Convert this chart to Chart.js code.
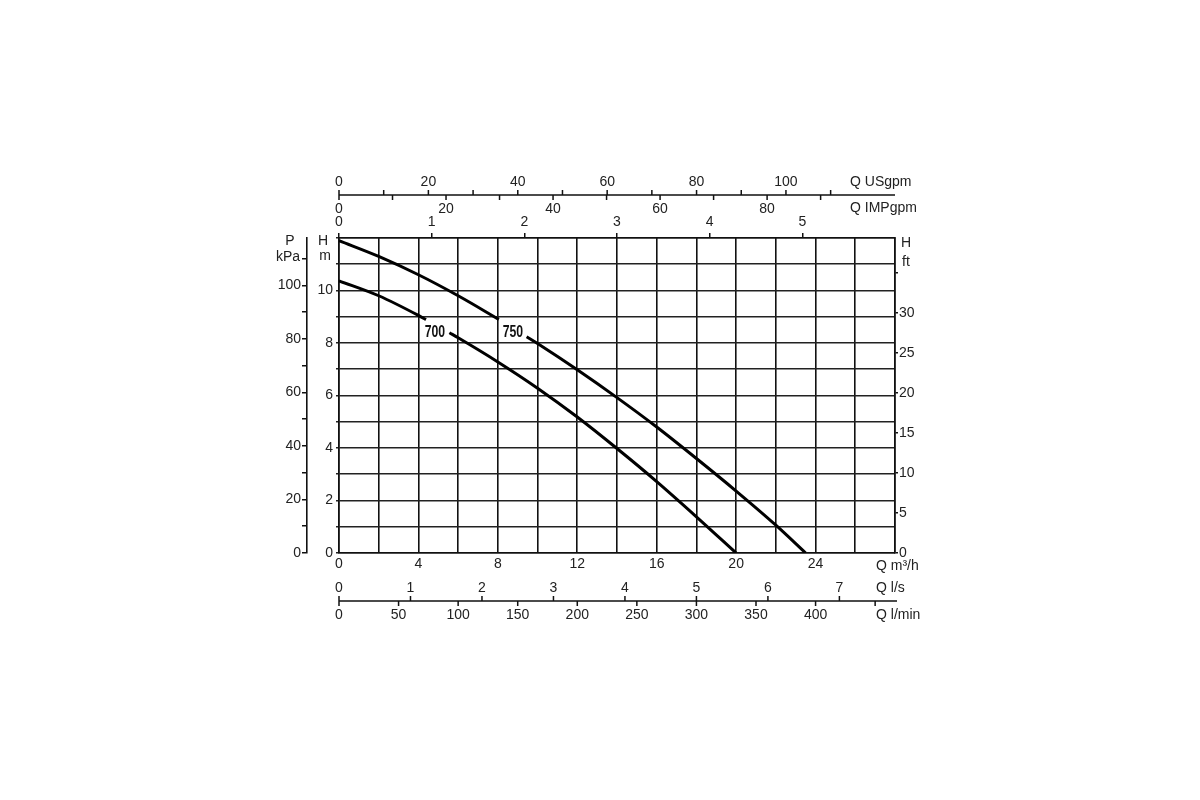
<!DOCTYPE html>
<html lang="en">
<head>
<meta charset="UTF-8">
<title>Pump curves 700 / 750</title>
<script src="https://cdn.jsdelivr.net/npm/chart.js"></script>
<style>
    body { margin: 0; background: #fff; }
    #chartBox { width: 1200px; height: 800px; }
</style>
</head>
<body>
<div id="chartBox"><canvas id="pumpChart" width="1200" height="800"></canvas></div>
<script>
    // Q (m3/h) and H (m); null leaves the gap for the curve name
    var q700 = [0, 2, 4, 4.38, 5, 5.56, 6, 8, 10, 12, 14, 16, 18, 20];
    var h700 = [10.37, 9.8, 9.05, 8.89, null, 8.39, 8.2, 7.28, 6.28, 5.18, 3.98, 2.72, 1.38, 0];
    var q750 = [0, 2, 4, 6, 8.05, 8.8, 9.45, 10, 12, 14, 16, 18, 20, 22, 23.5];
    var h750 = [11.9, 11.3, 10.6, 9.8, 8.9, null, 8.24, 7.98, 6.98, 5.92, 4.8, 3.6, 2.36, 1.06, 0];

    // curve names and where they sit (Q, H)
    var curveNames = ['700', '750'];
    var nameQ = [4.83, 8.76];
    var nameH = [8.42, 8.42];

    // axis ticks and labels
    var qTicks = [0, 2, 4, 6, 8, 10, 12, 14, 16, 18, 20, 22, 24, 26, 28];
    var qLabels = [0, 4, 8, 12, 16, 20, 24];
    var hTicks = [0, 1, 2, 3, 4, 5, 6, 7, 8, 9, 10, 11, 12];
    var hLabels = [0, 2, 4, 6, 8, 10];
    var pTicks = [0, 10, 20, 30, 40, 50, 60, 70, 80, 90, 100, 110];
    var pLabels = [0, 20, 40, 60, 80, 100];
    var ftTicks = [0, 5, 10, 15, 20, 25, 30, 35];
    var ftLabels = [0, 5, 10, 15, 20, 25, 30];
    var topTicks = [0, 1, 2, 3, 4, 5];
    var usTicks = [0, 10, 20, 30, 40, 50, 60, 70, 80, 90, 100, 110];
    var usLabels = [0, 20, 40, 60, 80, 100];
    var impTicks = [0, 10, 20, 30, 40, 50, 60, 70, 80, 90];
    var impLabels = [0, 20, 40, 60, 80];
    var lsTicks = [0, 1, 2, 3, 4, 5, 6, 7];
    var lsLabels = [0, 1, 2, 3, 4, 5, 6, 7];
    var lminTicks = [0, 50, 100, 150, 200, 250, 300, 350, 400, 450];
    var lminLabels = [0, 50, 100, 150, 200, 250, 300, 350, 400];

    // axis ranges
    var qMax = 28;
    var hMax = 12;
    var kPaMax = hMax * 9.81;
    var ftMax = hMax / 0.3048;
    var topMax = 6;
    var usMax = 124.4;
    var impMax = 103.9;
    var lsMax = qMax / 3.6;
    var lminMax = qMax / 0.06;

    var ink = '#111';
    var textColor = '#222';
    var font = '"Liberation Sans", Arial, sans-serif';

    Chart.defaults.font.family = font;
    Chart.defaults.font.size = 14;
    Chart.defaults.color = textColor;

    function fixedTicks(list) {
        return function (scale) {
            scale.ticks = list.map(function (v) { return { value: v }; });
        };
    }
    function labelIf(list) {
        return function (v) { return list.indexOf(v) >= 0 ? String(v) : ''; };
    }
    function toPoints(qs, hs) {
        return qs.map(function (q, i) { return { x: q, y: hs[i] }; });
    }

    // axis that shares one line: ticks/labels above for one unit, below for the other
    function pairedAxis(ctx, area, y, upScale, upTicks, upLabels, downScale, downTicks, downLabels, extra) {
        ctx.beginPath();
        ctx.moveTo(area.left, y);
        ctx.lineTo(area.right + extra, y);
        upTicks.forEach(function (v) {
            var x = upScale.getPixelForValue(v);
            ctx.moveTo(x, y);
            ctx.lineTo(x, y - 5);
        });
        downTicks.forEach(function (v) {
            var x = downScale.getPixelForValue(v);
            ctx.moveTo(x, y);
            ctx.lineTo(x, y + 5);
        });
        ctx.stroke();
        upLabels.forEach(function (v) {
            ctx.fillText(String(v), upScale.getPixelForValue(v), y - 13);
        });
        downLabels.forEach(function (v) {
            ctx.fillText(String(v), downScale.getPixelForValue(v), y + 14);
        });
    }

    var pumpAxes = {
        id: 'pumpAxes',
        afterDraw: function (chart) {
            var ctx = chart.ctx;
            var a = chart.chartArea;
            var s = chart.scales;
            ctx.save();
            ctx.strokeStyle = ink;
            ctx.fillStyle = textColor;
            ctx.lineWidth = 1.5;
            ctx.font = '14px ' + font;
            ctx.textAlign = 'center';
            ctx.textBaseline = 'middle';

            pairedAxis(ctx, a, a.top - 43, s.us, usTicks, usLabels, s.imp, impTicks, impLabels, 0);
            pairedAxis(ctx, a, a.bottom + 48, s.ls, lsTicks, lsLabels, s.lmin, lminTicks, lminLabels, 2);

            // unit captions
            ctx.fillText('P', a.left - 49, a.top + 3);
            ctx.fillText('kPa', a.left - 51, a.top + 19);
            ctx.fillText('H', a.left - 16, a.top + 3);
            ctx.fillText('m', a.left - 14, a.top + 18);
            ctx.fillText('H', a.right + 11, a.top + 5);
            ctx.fillText('ft', a.right + 11, a.top + 24);
            ctx.textAlign = 'left';
            ctx.fillText('Q USgpm', a.right - 45, a.top - 56);
            ctx.fillText('Q IMPgpm', a.right - 45, a.top - 30);
            ctx.fillText('Q m\u00b3/h', a.right - 19, a.bottom + 13);
            ctx.fillText('Q l/s', a.right - 19, a.bottom + 35);
            ctx.fillText('Q l/min', a.right - 19, a.bottom + 62);

            // curve names
            ctx.textAlign = 'center';
            ctx.fillStyle = '#111';
            ctx.font = 'bold 17px ' + font;
            curveNames.forEach(function (name, i) {
                var x = s.x.getPixelForValue(nameQ[i]);
                var y = s.y.getPixelForValue(nameH[i]);
                ctx.save();
                ctx.translate(x, y);
                ctx.scale(0.72, 1);
                ctx.fillText(name, 0, 0);
                ctx.restore();
            });
            ctx.restore();
        }
    };

    var curveStyle = {
        borderColor: '#000',
        borderWidth: 3,
        pointRadius: 0,
        fill: false,
        spanGaps: false,
        cubicInterpolationMode: 'monotone',
        xAxisID: 'x',
        yAxisID: 'y'
    };

    var ctx = document.getElementById('pumpChart').getContext('2d');
    var pumpChart = new Chart(ctx, {
        type: 'line',
        data: {
            datasets: [
                Object.assign({ label: curveNames[0], data: toPoints(q700, h700) }, curveStyle),
                Object.assign({ label: curveNames[1], data: toPoints(q750, h750) }, curveStyle)
            ]
        },
        options: {
            responsive: false,
            animation: false,
            layout: { padding: { left: 267, right: 275, top: 216, bottom: 225 } },
            plugins: {
                legend: { display: false },
                tooltip: { enabled: false }
            },
            scales: {
                x: {
                    type: 'linear', position: 'bottom', min: 0, max: qMax,
                    afterBuildTicks: fixedTicks(qTicks),
                    afterFit: function (sc) { sc.height = 22; },
                    ticks: { callback: labelIf(qLabels), autoSkip: false, maxRotation: 0, padding: 3 },
                    grid: { color: ink, lineWidth: 1.6, drawTicks: false },
                    border: { display: true, color: ink, width: 1.6 }
                },
                y: {
                    type: 'linear', position: 'left', min: 0, max: hMax, weight: 0,
                    afterBuildTicks: fixedTicks(hTicks),
                    afterFit: function (sc) { sc.width = 32; },
                    ticks: { callback: labelIf(hLabels), autoSkip: false, padding: 3 },
                    grid: { color: '#222', lineWidth: 1.6, tickLength: 3 },
                    border: { display: true, color: ink, width: 1.6 }
                },
                yP: {
                    type: 'linear', position: 'left', min: 0, max: kPaMax, weight: 1,
                    afterBuildTicks: fixedTicks(pTicks),
                    afterFit: function (sc) { sc.width = 40; },
                    ticks: { callback: labelIf(pLabels), autoSkip: false, padding: 1 },
                    grid: { drawOnChartArea: false, color: ink, lineWidth: 1.5, tickLength: 5 },
                    border: { display: true, color: ink, width: 1.6 }
                },
                yFt: {
                    type: 'linear', position: 'right', min: 0, max: ftMax,
                    afterBuildTicks: fixedTicks(ftTicks),
                    afterFit: function (sc) { sc.width = 30; },
                    ticks: { callback: labelIf(ftLabels), autoSkip: false, padding: 1 },
                    grid: { drawOnChartArea: false, color: ink, lineWidth: 1.5, tickLength: 3 },
                    border: { display: true, color: ink, width: 1.6 }
                },
                xTop: {
                    type: 'linear', position: 'top', min: 0, max: topMax,
                    afterBuildTicks: fixedTicks(topTicks),
                    afterFit: function (sc) { sc.height = 22; },
                    ticks: { autoSkip: false, maxRotation: 0, padding: 2 },
                    grid: { drawOnChartArea: false, color: ink, lineWidth: 1.5, tickLength: 5 },
                    border: { display: true, color: ink, width: 1.6 }
                },
                us: { type: 'linear', position: 'top', display: false, min: 0, max: usMax },
                imp: { type: 'linear', position: 'top', display: false, min: 0, max: impMax },
                ls: { type: 'linear', position: 'bottom', display: false, min: 0, max: lsMax },
                lmin: { type: 'linear', position: 'bottom', display: false, min: 0, max: lminMax }
            }
        },
        plugins: [pumpAxes]
    });
</script>
</body>
</html>
